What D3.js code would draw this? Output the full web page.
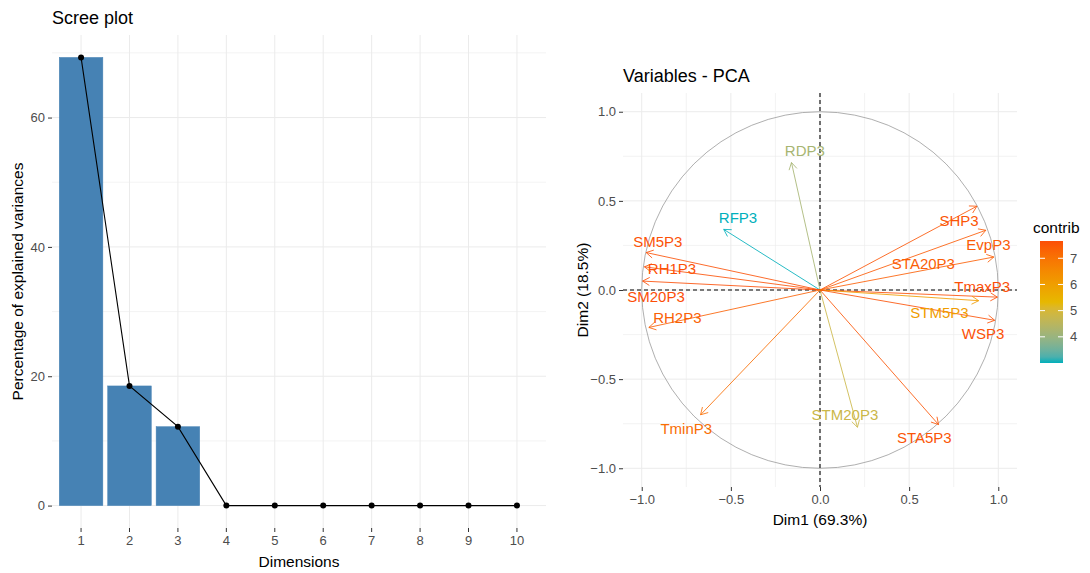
<!DOCTYPE html>
<html>
<head>
<meta charset="utf-8">
<script src="https://cdn.jsdelivr.net/npm/d3@7"></script>
<style>
  body { margin: 0; background: #fff; }
  svg { display: block; font-family: "Liberation Sans", Arial, sans-serif; }
</style>
</head>
<body>
<svg id="chart" width="1090" height="573"></svg>
<script>
// Scree plot data
var dims = ["1", "2", "3", "4", "5", "6", "7", "8", "9", "10"];
var variances = [69.3, 18.5, 12.2, 0, 0, 0, 0, 0, 0, 0];
var screeTicks = [0, 20, 40, 60];

// PCA variable data (coordinates on Dim1 / Dim2)
var varNames = ["RDP3", "RFP3", "SM5P3", "RH1P3", "SM20P3", "RH2P3", "TminP3", "STM20P3", "STA5P3", "SHP3", "EvpP3", "STA20P3", "TmaxP3", "STM5P3", "WSP3"];
var dim1 = [-0.16, -0.54, -0.975, -0.985, -0.995, -0.96, -0.67, 0.21, 0.665, 0.88, 0.93, 0.975, 0.995, 0.89, 0.98];
var dim2 = [0.715, 0.34, 0.21, 0.13, 0.05, -0.21, -0.70, -0.77, -0.755, 0.47, 0.335, 0.185, -0.04, -0.06, -0.17];
var contrib = [4.2, 3.0, 7.6, 7.6, 7.66, 7.35, 7.1, 4.8, 7.55, 7.55, 7.45, 7.4, 7.65, 6.05, 7.6];
// label anchor points (data units)
var labelX = [-0.085, -0.46, -0.91, -0.83, -0.92, -0.80, -0.75, 0.14, 0.585, 0.78, 0.945, 0.58, 0.91, 0.67, 0.915];
var labelY = [0.78, 0.405, 0.27, 0.12, -0.035, -0.155, -0.78, -0.70, -0.83, 0.39, 0.255, 0.15, 0.02, -0.125, -0.245];
var pcaTicks = [-1.0, -0.5, 0.0, 0.5, 1.0];
var pcaMinor = [-0.75, -0.25, 0.25, 0.75];
var legendTicks = [4, 5, 6, 7];

var svg = d3.select("#chart");
var gridCol = "#ebebeb";

function styleAxis(g) {
    g.select(".domain").remove();
    g.selectAll(".tick line").attr("stroke", "#333").attr("stroke-width", 1);
    g.selectAll(".tick text").attr("fill", "#4d4d4d").attr("font-size", 13);
}

// ---------------- Scree plot ----------------
var sx = d3.scaleBand().domain(dims).range([52, 546]).paddingInner(0.1).paddingOuter(0.15);
var sy = d3.scaleLinear().domain([-3.465, 72.765]).range([528, 35]);

var scree = svg.append("g");

// grid
scree.selectAll("line.hminor").data([10, 30, 50, 70]).enter().append("line")
    .attr("x1", 52).attr("x2", 546)
    .attr("y1", function(d) { return sy(d); }).attr("y2", function(d) { return sy(d); })
    .attr("stroke", gridCol).attr("stroke-width", 0.6);
scree.selectAll("line.hmajor").data(screeTicks).enter().append("line")
    .attr("x1", 52).attr("x2", 546)
    .attr("y1", function(d) { return sy(d); }).attr("y2", function(d) { return sy(d); })
    .attr("stroke", gridCol).attr("stroke-width", 1);
scree.selectAll("line.vmajor").data(dims).enter().append("line")
    .attr("x1", function(d) { return sx(d) + sx.bandwidth() / 2; })
    .attr("x2", function(d) { return sx(d) + sx.bandwidth() / 2; })
    .attr("y1", 35).attr("y2", 528)
    .attr("stroke", gridCol).attr("stroke-width", 1);

// bars
scree.selectAll("rect.bar").data(variances).enter().append("rect")
    .attr("x", function(d, i) { return sx(dims[i]); })
    .attr("y", function(d) { return sy(d); })
    .attr("width", sx.bandwidth())
    .attr("height", function(d) { return sy(0) - sy(d); })
    .attr("fill", "steelblue")
    .attr("stroke", "steelblue")
    .attr("stroke-width", 0.5);

// line + points
var screeLine = d3.line()
    .x(function(d, i) { return sx(dims[i]) + sx.bandwidth() / 2; })
    .y(function(d) { return sy(d); });
scree.append("path").datum(variances)
    .attr("d", screeLine)
    .attr("fill", "none").attr("stroke", "#000").attr("stroke-width", 1.1);
scree.selectAll("circle.pt").data(variances).enter().append("circle")
    .attr("cx", function(d, i) { return sx(dims[i]) + sx.bandwidth() / 2; })
    .attr("cy", function(d) { return sy(d); })
    .attr("r", 3).attr("fill", "#000");

// axes
scree.append("g").attr("transform", "translate(52,0)")
    .call(d3.axisLeft(sy).tickValues(screeTicks).tickSize(4).tickPadding(3))
    .call(styleAxis);
scree.append("g").attr("transform", "translate(0,528)")
    .call(d3.axisBottom(sx).tickSize(4).tickPadding(4))
    .call(styleAxis);

scree.append("text").attr("x", 52).attr("y", 24)
    .attr("font-size", 18).attr("fill", "#000").text("Scree plot");
scree.append("text").attr("x", 299).attr("y", 567)
    .attr("text-anchor", "middle").attr("font-size", 15.5).attr("fill", "#000").text("Dimensions");
scree.append("text")
    .attr("transform", "translate(23," + ((35 + 528) / 2) + ") rotate(-90)")
    .attr("text-anchor", "middle").attr("font-size", 15.5).attr("fill", "#000")
    .text("Percentage of explained variances");

// ---------------- Variables - PCA ----------------
var px = d3.scaleLinear().domain([-1.105, 1.105]).range([623, 1017]);
var py = d3.scaleLinear().domain([-1.105, 1.105]).range([487, 93]);

var color = d3.scaleLinear()
    .domain([d3.min(contrib), (d3.min(contrib) + d3.max(contrib)) / 2, d3.max(contrib)])
    .range(["#00AFBB", "#E7B800", "#FC4E07"])
    .interpolate(d3.interpolateLab);

var pca = svg.append("g");

// grid
pca.selectAll("line.vminor").data(pcaMinor).enter().append("line")
    .attr("x1", function(d) { return px(d); }).attr("x2", function(d) { return px(d); })
    .attr("y1", 93).attr("y2", 487).attr("stroke", gridCol).attr("stroke-width", 0.6);
pca.selectAll("line.hminor").data(pcaMinor).enter().append("line")
    .attr("y1", function(d) { return py(d); }).attr("y2", function(d) { return py(d); })
    .attr("x1", 623).attr("x2", 1017).attr("stroke", gridCol).attr("stroke-width", 0.6);
pca.selectAll("line.vmajor").data(pcaTicks).enter().append("line")
    .attr("x1", function(d) { return px(d); }).attr("x2", function(d) { return px(d); })
    .attr("y1", 93).attr("y2", 487).attr("stroke", gridCol).attr("stroke-width", 1);
pca.selectAll("line.hmajor").data(pcaTicks).enter().append("line")
    .attr("y1", function(d) { return py(d); }).attr("y2", function(d) { return py(d); })
    .attr("x1", 623).attr("x2", 1017).attr("stroke", gridCol).attr("stroke-width", 1);

// correlation circle
pca.append("circle")
    .attr("cx", px(0)).attr("cy", py(0)).attr("r", px(1) - px(0))
    .attr("fill", "none").attr("stroke", "#9a9a9a").attr("stroke-width", 0.8);

// dashed zero lines
pca.append("line").attr("x1", 623).attr("x2", 1017).attr("y1", py(0)).attr("y2", py(0))
    .attr("stroke", "#000").attr("stroke-width", 1.1).attr("stroke-dasharray", "4,3");
pca.append("line").attr("x1", px(0)).attr("x2", px(0)).attr("y1", 93).attr("y2", 487)
    .attr("stroke", "#000").attr("stroke-width", 1.1).attr("stroke-dasharray", "4,3");

// arrows
var headLen = 8;
varNames.forEach(function(name, i) {
    var x0 = px(0), y0 = py(0), x1 = px(dim1[i]), y1 = py(dim2[i]);
    var c = color(contrib[i]);
    var ang = Math.atan2(y1 - y0, x1 - x0);
    var a1 = ang + Math.PI - Math.PI / 6, a2 = ang + Math.PI + Math.PI / 6;
    pca.append("line").attr("x1", x0).attr("y1", y0).attr("x2", x1).attr("y2", y1)
        .attr("stroke", c).attr("stroke-width", 0.85);
    pca.append("path")
        .attr("d", "M" + (x1 + headLen * Math.cos(a1)) + "," + (y1 + headLen * Math.sin(a1)) +
            "L" + x1 + "," + y1 +
            "L" + (x1 + headLen * Math.cos(a2)) + "," + (y1 + headLen * Math.sin(a2)))
        .attr("fill", "none").attr("stroke", c).attr("stroke-width", 0.85);
});

// labels
pca.selectAll("text.lbl").data(varNames).enter().append("text")
    .attr("x", function(d, i) { return px(labelX[i]); })
    .attr("y", function(d, i) { return py(labelY[i]); })
    .attr("dy", "0.36em")
    .attr("text-anchor", "middle")
    .attr("font-size", 15)
    .attr("fill", function(d, i) { return color(contrib[i]); })
    .text(function(d) { return d; });

// axes
pca.append("g").attr("transform", "translate(623,0)")
    .call(d3.axisLeft(py).tickValues(pcaTicks).tickFormat(d3.format(".1f")).tickSize(4).tickPadding(3))
    .call(styleAxis);
pca.append("g").attr("transform", "translate(0,487)")
    .call(d3.axisBottom(px).tickValues(pcaTicks).tickFormat(d3.format(".1f")).tickSize(4).tickPadding(4))
    .call(styleAxis);

pca.append("text").attr("x", 623).attr("y", 82)
    .attr("font-size", 18).attr("fill", "#000").text("Variables - PCA");
pca.append("text").attr("x", 820).attr("y", 525)
    .attr("text-anchor", "middle").attr("font-size", 15.5).attr("fill", "#000").text("Dim1 (69.3%)");
pca.append("text")
    .attr("transform", "translate(588,290) rotate(-90)")
    .attr("text-anchor", "middle").attr("font-size", 15.5).attr("fill", "#000")
    .text("Dim2 (18.5%)");

// ---------------- Legend ----------------
var ly = d3.scaleLinear().domain([d3.min(contrib), d3.max(contrib)]).range([363, 241]);
var grad = svg.append("defs").append("linearGradient")
    .attr("id", "contribGrad").attr("x1", 0).attr("y1", 1).attr("x2", 0).attr("y2", 0);
d3.range(0, 1.0001, 0.05).forEach(function(t) {
    var v = d3.min(contrib) + t * (d3.max(contrib) - d3.min(contrib));
    grad.append("stop").attr("offset", t).attr("stop-color", color(v));
});
var legend = svg.append("g");
legend.append("text").attr("x", 1033).attr("y", 233)
    .attr("font-size", 15.5).attr("fill", "#000").text("contrib");
legend.append("rect").attr("x", 1040).attr("y", 241).attr("width", 23).attr("height", 122)
    .attr("fill", "url(#contribGrad)");
legend.selectAll("line.tl").data(legendTicks).enter().append("line")
    .attr("x1", 1040).attr("x2", 1045)
    .attr("y1", function(d) { return ly(d); }).attr("y2", function(d) { return ly(d); })
    .attr("stroke", "#fff").attr("stroke-width", 1);
legend.selectAll("line.tr").data(legendTicks).enter().append("line")
    .attr("x1", 1058).attr("x2", 1063)
    .attr("y1", function(d) { return ly(d); }).attr("y2", function(d) { return ly(d); })
    .attr("stroke", "#fff").attr("stroke-width", 1);
legend.selectAll("text.tv").data(legendTicks).enter().append("text")
    .attr("x", 1070).attr("y", function(d) { return ly(d); })
    .attr("dy", "0.36em").attr("font-size", 13).attr("fill", "#4d4d4d")
    .text(function(d) { return d; });
</script>
</body>
</html>
